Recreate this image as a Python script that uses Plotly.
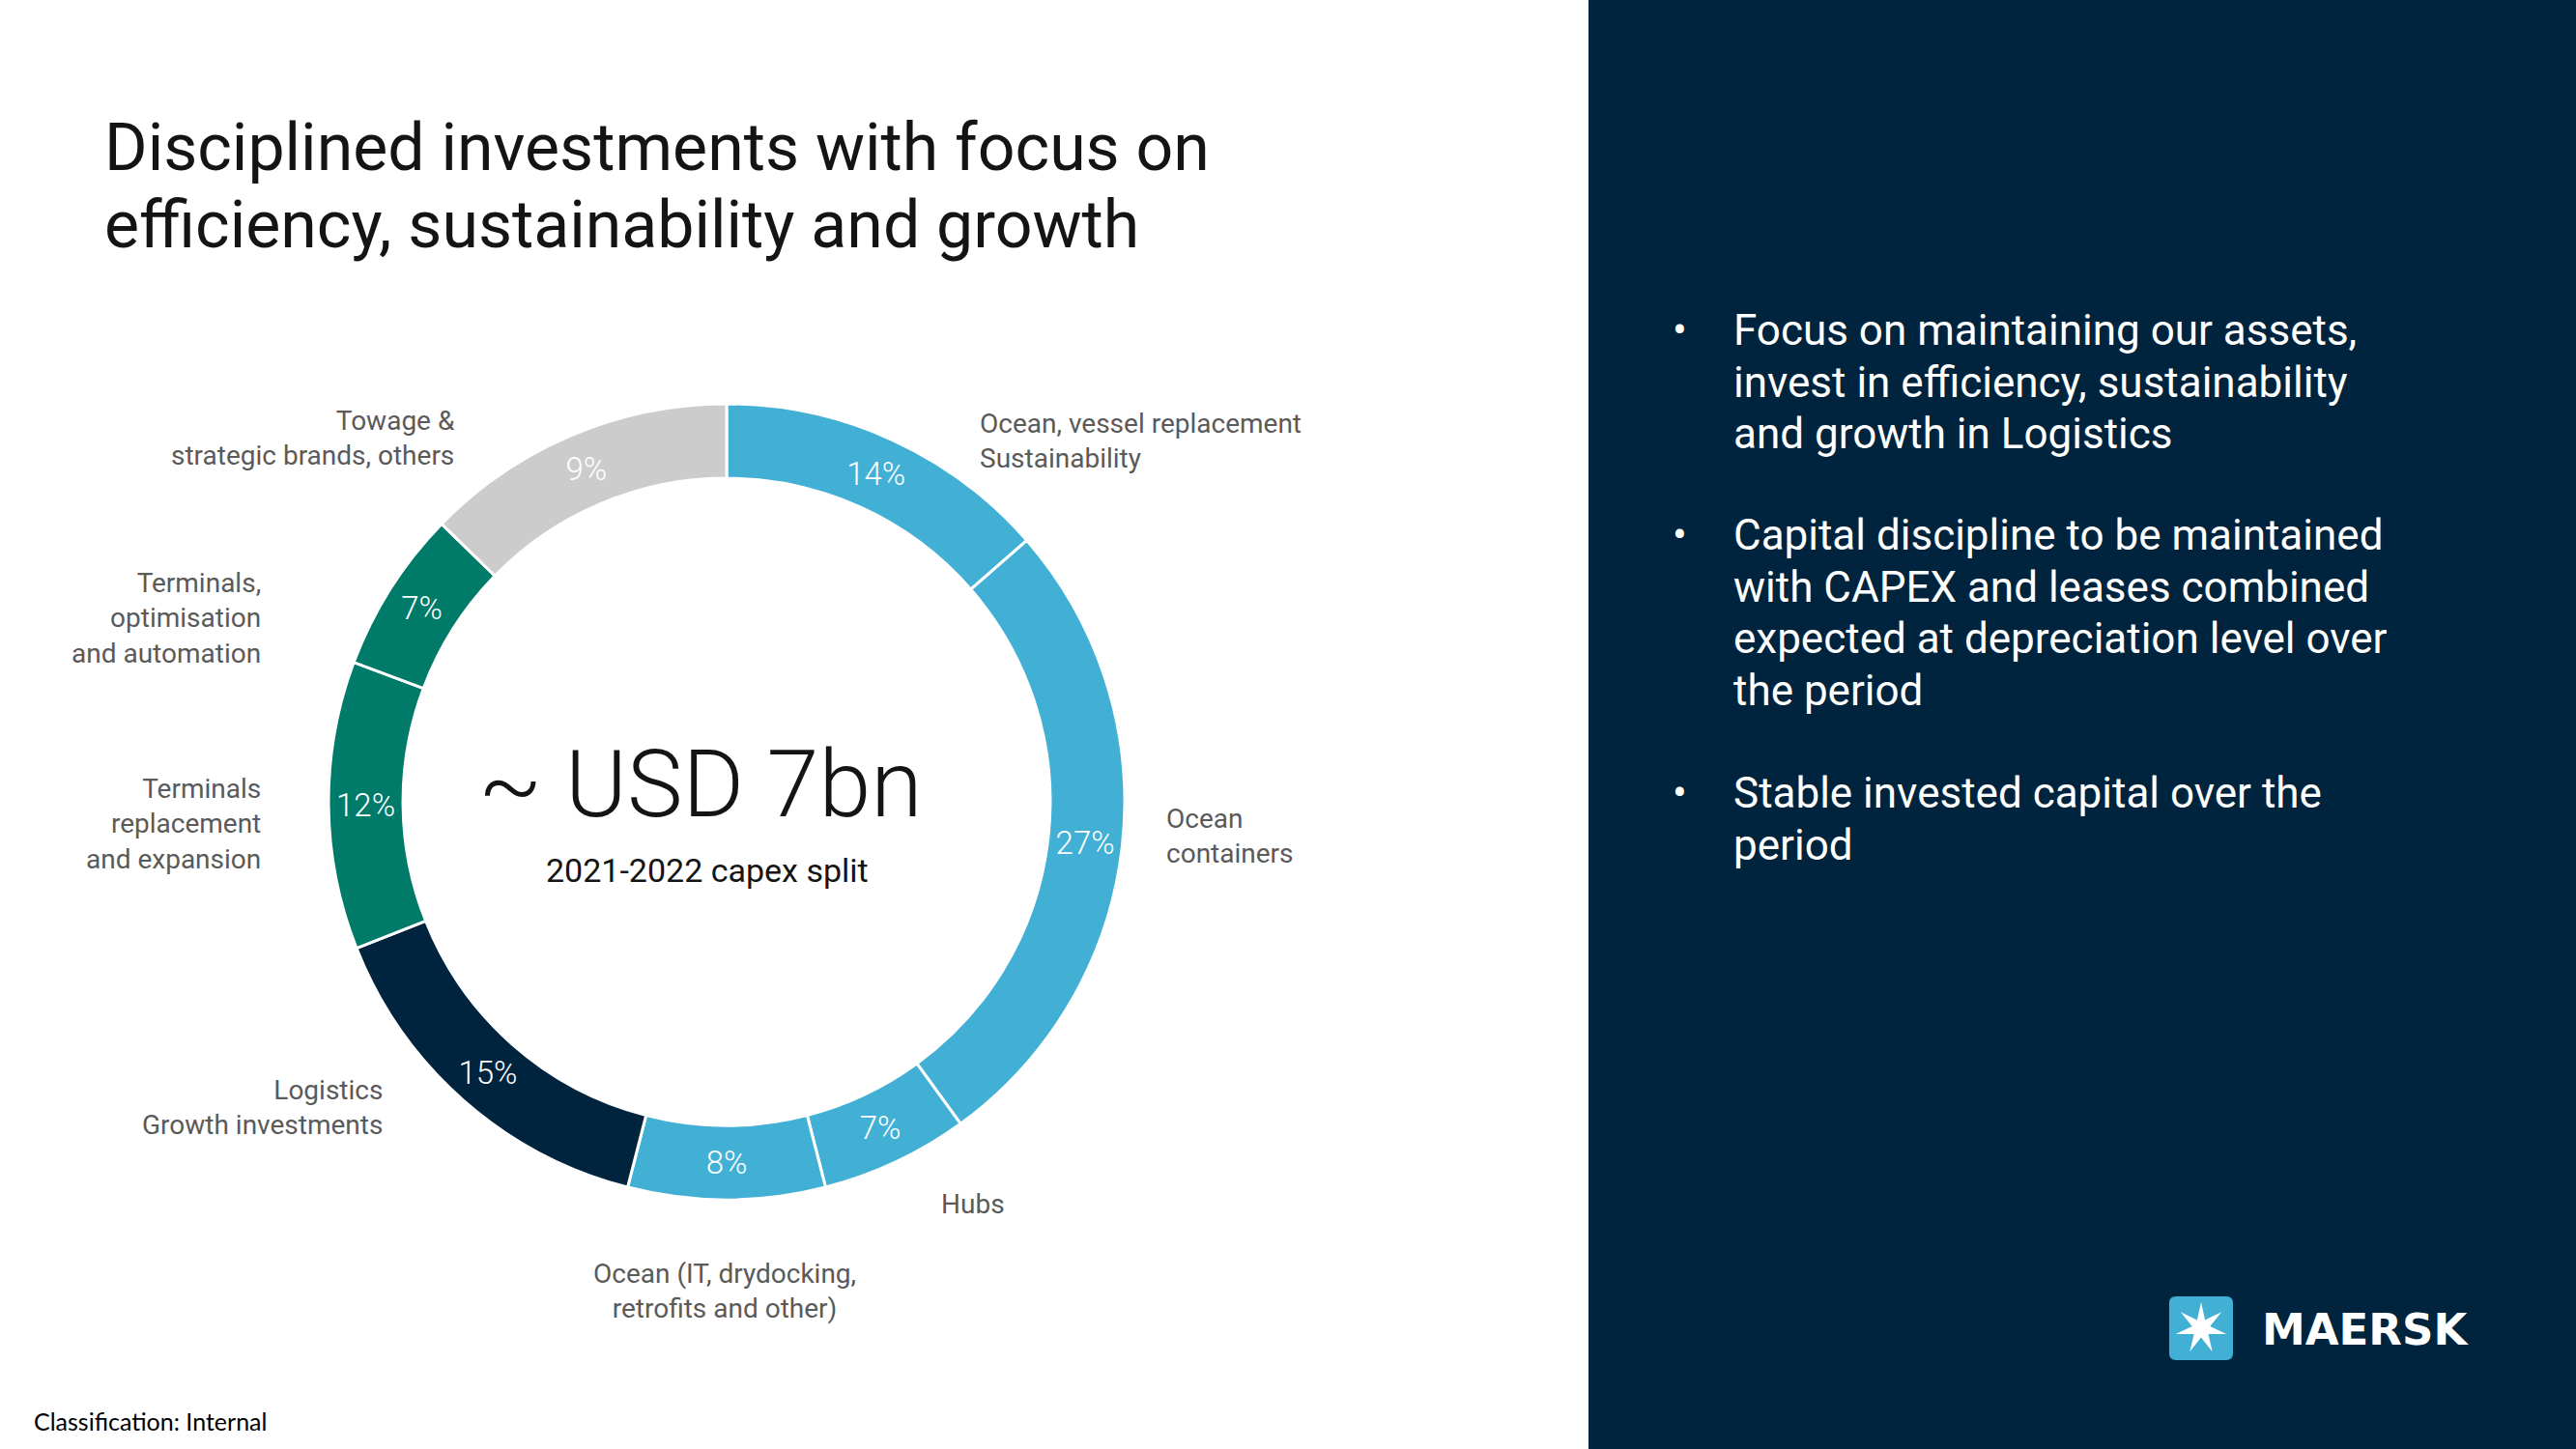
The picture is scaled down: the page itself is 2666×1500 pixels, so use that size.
import numpy as np
import plotly.graph_objects as go

W, H = 2666, 1500

# --- data ---
segments = [
    "Ocean, vessel replacement<br>Sustainability",
    "Ocean<br>containers",
    "Hubs",
    "Ocean (IT, drydocking,<br>retrofits and other)",
    "Logistics<br>Growth investments",
    "Terminals<br>replacement<br>and expansion",
    "Terminals,<br>optimisation<br>and automation",
    "Towage &<br>strategic brands, others",
]
# arc sizes as drawn in the picture (the printed labels do not add up exactly)
shares = [13.6, 26.4, 6.0, 8.0, 15.0, 11.7, 6.6, 12.7]
pct_labels = ["14%", "27%", "7%", "8%", "15%", "12%", "7%", "9%"]
seg_colors = ["#42B0D5", "#42B0D5", "#42B0D5", "#42B0D5",
              "#00243D", "#007B6A", "#007B6A", "#CCCCCC"]

title_lines = ["Disciplined investments with focus on",
               "efficiency, sustainability and growth"]
bullets = [
    ["Focus on maintaining our assets,", "invest in efficiency, sustainability",
     "and growth in Logistics"],
    ["Capital discipline to be maintained", "with CAPEX and leases combined",
     "expected at depreciation level over", "the period"],
    ["Stable invested capital over the", "period"],
]

# label placement (pixels): x, y, anchor
label_pos = [
    (1012, 456, "left"), (1205, 865, "left"), (972, 1246, "left"),
    (750, 1336, "center"), (398, 1146, "right"), (272, 853, "right"),
    (272, 640, "right"), (473, 453, "right"),
]

NAVY = "#00243D"
FONT = "Roboto"

# donut geometry in pixels
cx, cy, r = 752, 830, 412

fig = go.Figure()
fig.add_trace(go.Pie(
    values=shares, labels=segments, text=pct_labels,
    textinfo="text", textposition="inside", insidetextorientation="horizontal",
    textfont=dict(family=FONT, size=33, color="white", weight=300),
    marker=dict(colors=seg_colors, line=dict(color="white", width=3)),
    hole=0.813, sort=False, direction="clockwise", rotation=0,
    showlegend=False, hoverinfo="skip",
    domain=dict(x=[(cx - r) / W, (cx + r) / W], y=[(H - cy - r) / H, (H - cy + r) / H]),
))

shapes = [dict(type="rect", xref="x", yref="y", x0=1644, x1=W, y0=0, y1=H,
               fillcolor=NAVY, line=dict(width=0), layer="below")]

# logo: rounded square + 7 point star
lx, ly, hs, rc = 2278, 1375, 33, 7
sq = (f"M {lx-hs+rc},{ly-hs} L {lx+hs-rc},{ly-hs} Q {lx+hs},{ly-hs} {lx+hs},{ly-hs+rc} "
      f"L {lx+hs},{ly+hs-rc} Q {lx+hs},{ly+hs} {lx+hs-rc},{ly+hs} L {lx-hs+rc},{ly+hs} "
      f"Q {lx-hs},{ly+hs} {lx-hs},{ly+hs-rc} L {lx-hs},{ly-hs+rc} Q {lx-hs},{ly-hs} {lx-hs+rc},{ly-hs} Z")
shapes.append(dict(type="path", xref="x", yref="y", path=sq, fillcolor="#42B0D5", line=dict(width=0)))
ang = np.arange(14) * np.pi / 7
rad = np.where(np.arange(14) % 2 == 0, 27, 9.5)
pts = [(lx + rr * np.sin(a), ly - rr * np.cos(a)) for a, rr in zip(ang, rad)]
star = "M " + " L ".join(f"{x:.1f},{y:.1f}" for x, y in pts) + " Z"
shapes.append(dict(type="path", xref="x", yref="y", path=star, fillcolor="white", line=dict(width=0)))

ann = []
def txt(x, y, s, size, color="black", anchor="left", family=FONT, weight=None):
    f = dict(family=family, size=size, color=color)
    if weight:
        f["weight"] = weight
    ann.append(dict(x=x, y=y, xref="x", yref="y", text=s, showarrow=False,
                    xanchor=anchor, yanchor="middle", align=anchor, font=f))

for i, line in enumerate(title_lines):
    txt(106, 153 + i * 80, line, 68, color="#141414")

txt(725, 812, "~ USD 7bn", 97, color="#141414", anchor="center", weight=300)
txt(732, 901, "2021-2022 capex split", 34, color="#141414", anchor="center")

for (x, y, a), s in zip(label_pos, segments):
    txt(x, y, s, 28, color="#5A5A5A", anchor=a)

y0s = [342, 554, 821]
for y0, lines in zip(y0s, bullets):
    txt(1738, y0, "•", 44, color="white", anchor="center")
    for j, line in enumerate(lines):
        txt(1792, y0 + j * 53.7, line, 44, color="white")

txt(2339, 1376, "<b>MAERSK</b>", 45, color="white", family="DejaVu Sans")
txt(33, 1471, "Classification: Internal", 25, color="black", family="Lato")

fig.update_layout(
    width=W, height=H, margin=dict(l=0, r=0, t=0, b=0),
    paper_bgcolor="white", plot_bgcolor="rgba(0,0,0,0)",
    xaxis=dict(range=[0, W], visible=False, domain=[0, 1], fixedrange=True),
    yaxis=dict(range=[H, 0], visible=False, domain=[0, 1], fixedrange=True),
    shapes=shapes, annotations=ann,
)

fig.write_html("out.html", config={"displayModeBar": False},
               post_script="document.body.style.margin='0';document.body.style.overflow='hidden';")
